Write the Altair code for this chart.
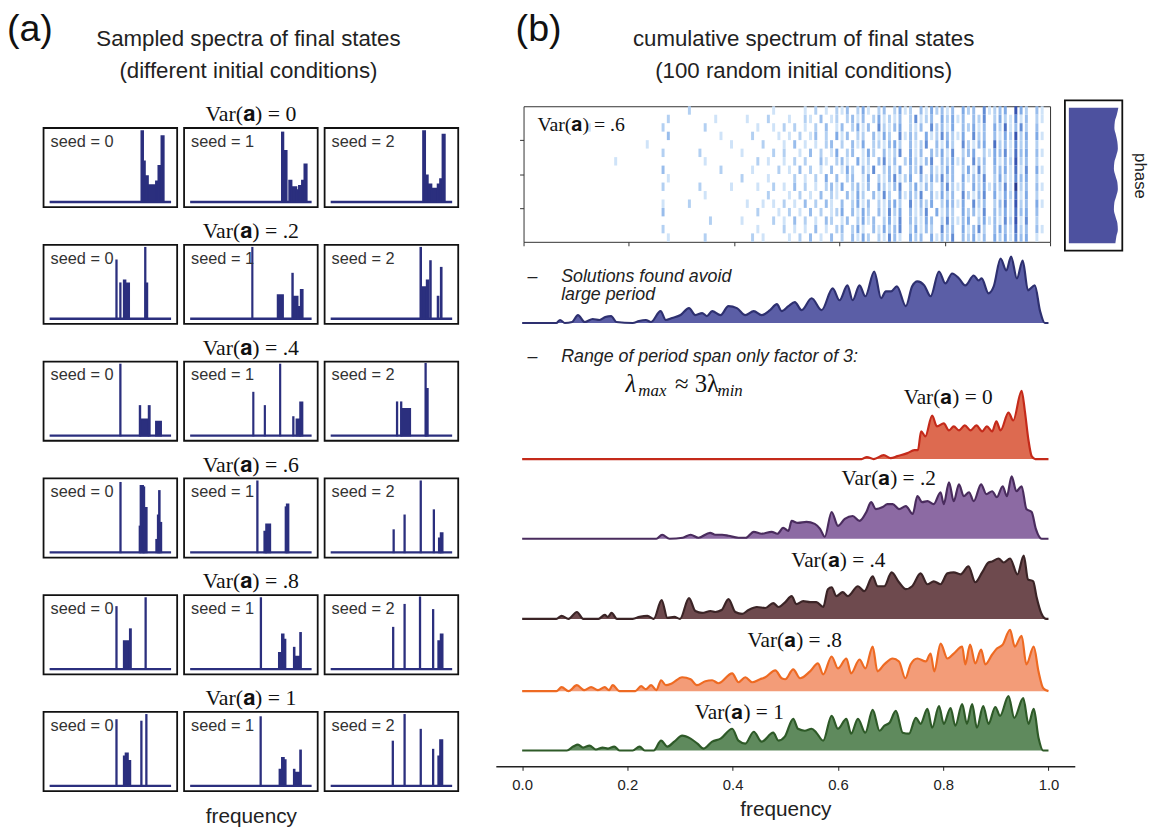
import altair as alt
import pandas as pd

SANS = "Liberation Sans"
SERIF = "Liberation Serif, DejaVu Serif, serif"
NAVY = "#2b2f7e"

# ---------------- panel (a) data: spectra segments (f_start, f_end, height) ----------------
VAR_LABELS = ["0", ".2", ".4", ".6", ".8", "1"]
SEEDS = [0, 1, 2]

SPEC_0 = [
    [(0.755, 0.77, 0.96), (0.77, 0.785, 0.55), (0.785, 0.81, 0.35), (0.81, 0.875, 0.23), (0.875, 0.895, 0.28), (0.895, 0.92, 0.49), (0.92, 0.94, 0.89)],
    [(0.755, 0.768, 0.94), (0.768, 0.795, 0.69), (0.815, 0.835, 0.29), (0.835, 0.875, 0.2), (0.875, 0.895, 0.16), (0.895, 0.92, 0.22), (0.92, 0.94, 0.29), (0.94, 0.96, 0.51)],
    [(0.76, 0.778, 0.96), (0.778, 0.8, 0.36), (0.8, 0.83, 0.24), (0.83, 0.88, 0.18), (0.88, 0.9, 0.24), (0.9, 0.92, 0.31), (0.92, 0.94, 0.91)],
]
SPEC_02 = [
    [(0.548, 0.553, 0.79), (0.58, 0.585, 0.48), (0.61, 0.625, 0.52), (0.625, 0.655, 0.48), (0.785, 0.79, 0.96), (0.79, 0.805, 0.48)],
    [(0.51, 0.514, 0.96), (0.72, 0.765, 0.32), (0.84, 0.846, 0.61), (0.846, 0.885, 0.3), (0.885, 0.91, 0.16), (0.91, 0.927, 0.39)],
    [(0.738, 0.745, 0.96), (0.745, 0.79, 0.43), (0.79, 0.806, 0.52), (0.818, 0.825, 0.78), (0.88, 0.888, 0.3), (0.906, 0.914, 0.69)],
]
SPEC_04 = [
    [(0.58, 0.585, 0.96), (0.741, 0.747, 0.4), (0.747, 0.815, 0.22), (0.815, 0.825, 0.4), (0.875, 0.918, 0.19)],
    [(0.518, 0.522, 0.58), (0.613, 0.617, 0.4), (0.739, 0.743, 0.96), (0.847, 0.852, 0.25), (0.875, 0.905, 0.22), (0.905, 0.925, 0.45)],
    [(0.544, 0.549, 0.45), (0.578, 0.583, 0.45), (0.583, 0.655, 0.36), (0.779, 0.784, 0.97), (0.784, 0.8, 0.63)],
]
SPEC_06 = [
    [(0.581, 0.586, 0.94), (0.74, 0.748, 0.35), (0.748, 0.77, 0.9), (0.77, 0.78, 0.88), (0.78, 0.8, 0.6), (0.877, 0.89, 0.17), (0.89, 0.9, 0.5), (0.9, 0.907, 0.83), (0.907, 0.92, 0.4)],
    [(0.551, 0.556, 0.96), (0.61, 0.625, 0.28), (0.625, 0.66, 0.38), (0.785, 0.795, 0.61), (0.795, 0.81, 0.65)],
    [(0.516, 0.521, 0.3), (0.606, 0.611, 0.5), (0.739, 0.744, 0.96), (0.847, 0.852, 0.57), (0.89, 0.905, 0.19), (0.905, 0.922, 0.26)],
]
SPEC_08 = [
    [(0.548, 0.553, 0.84), (0.61, 0.66, 0.38), (0.66, 0.67, 0.54), (0.788, 0.793, 0.96)],
    [(0.58, 0.585, 0.96), (0.73, 0.755, 0.22), (0.755, 0.77, 0.47), (0.77, 0.785, 0.4), (0.853, 0.86, 0.29), (0.86, 0.9, 0.17), (0.905, 0.913, 0.49)],
    [(0.512, 0.517, 0.56), (0.606, 0.611, 0.87), (0.733, 0.738, 0.97), (0.841, 0.846, 0.8), (0.885, 0.905, 0.38), (0.905, 0.922, 0.47)],
]
SPEC_1 = [
    [(0.548, 0.553, 0.89), (0.61, 0.625, 0.4), (0.625, 0.645, 0.44), (0.645, 0.665, 0.34), (0.753, 0.758, 0.87), (0.794, 0.799, 0.96)],
    [(0.578, 0.583, 0.93), (0.735, 0.755, 0.22), (0.755, 0.772, 0.38), (0.772, 0.787, 0.35), (0.853, 0.86, 0.22), (0.86, 0.9, 0.18), (0.905, 0.913, 0.48)],
    [(0.509, 0.514, 0.6), (0.606, 0.611, 0.96), (0.739, 0.744, 0.76), (0.841, 0.846, 0.49), (0.885, 0.9, 0.4), (0.9, 0.92, 0.62)],
]
SPECTRA = [SPEC_0, SPEC_02, SPEC_04, SPEC_06, SPEC_08, SPEC_1]

# ---------------- panel (b) data ----------------
# heatmap: 16 sampled rows x 100 frequency bins, intensity 0-9
HEAT_ROWS = [
    "0000000000 0000000000 0000000000 0200000000 0000000100 0001020102 1302410230 2412031423 1304230512 3407420310",
    "0000000000 0000000000 0000000200 0000001000 0010002000 1002103012 0231302412 1302512304 2413032502 4215130210",
    "0000000000 0010000000 0000002000 0000200000 0000100102 0201020301 3024130521 3402130523 1403241304 2613520300",
    "0000000000 0000000000 0000000300 0000000100 0002000010 1020130204 1302203142 0513204125 3214052303 1427240410",
    "0000000000 0000000000 0001000000 0000000001 0000020001 0301010230 2031402213 4203125031 4205213406 2315230200",
    "0000000000 0000000000 0000002000 0002000000 0100000202 0010302014 0230142031 2504130324 1502340214 3516340310",
    "0000000000 0000000100 0000000000 0000100000 0000201001 0202003102 3104120351 3024213503 2413052304 1327230200",
    "0000000000 0000000000 0000003000 0000000200 0001000020 1030201030 1420315023 1403250312 4302415203 3416150410",
    "0000000000 0000000000 0000000100 0000000000 0200001000 0201020403 0230140213 5124031425 2304132502 4215340200",
    "0000000000 0000000000 0000002000 0002000001 0000100201 0302010231 4023130421 3502413203 5213042413 2518230310",
    "0000000000 0000000000 0000000000 0000100000 0000002000 1020103021 0314203152 0413250314 2305213504 1426140200",
    "0000000000 0000000000 0000001000 0200000000 0010010102 0103020310 3024130213 4205132402 4314052302 3517230410",
    "0000000000 0000000000 0000003000 0000000000 0000200010 2010302012 4031420315 2403125041 3204231503 2416340300",
    "0000000000 0000000000 0000000000 0000020000 0100000201 0302010320 1302413024 1503214302 5213402413 1527150200",
    "0000000000 0000000000 0000002000 0000000000 0000100002 0101030102 3024103142 3502413205 2304135203 4316230310",
    "0000000000 0000000000 0000000100 0000200000 0002010000 1020301030 2031420215 3104230413 2503241304 2415340100",
]

PHASE_Y = [1.0, 0.95, 0.9, 0.85, 0.8, 0.75, 0.7, 0.65, 0.6, 0.55, 0.5, 0.45, 0.4, 0.35, 0.3, 0.25, 0.2, 0.15, 0.1, 0.05, 0.0]
PHASE_D = [1.0, 0.97, 0.93, 0.92, 0.95, 0.98, 0.99, 0.96, 0.92, 0.91, 0.94, 0.98, 0.99, 0.96, 0.92, 0.91, 0.94, 0.98, 0.99, 0.96, 0.94]

# cumulative spectra (frequency, height) per variance
BLUE_PTS = [(0, 0), (0.065, 0), (0.072, 3), (0.081, 0), (0.095, 1), (0.106, 8), (0.119, 1), (0.134, 4), (0.147, 3), (0.158, 6), (0.169, 7), (0.179, 1), (0.21, 0), (0.222, 2), (0.235, 3), (0.245, 1), (0.263, 12), (0.273, 3), (0.285, 5), (0.301, 8), (0.317, 15), (0.329, 8), (0.342, 10), (0.351, 7), (0.361, 12), (0.377, 8), (0.392, 17), (0.408, 15), (0.424, 8), (0.44, 12), (0.455, 8), (0.471, 13), (0.484, 19), (0.493, 12), (0.506, 17), (0.518, 21), (0.531, 13), (0.55, 25), (0.569, 13), (0.59, 35), (0.603, 23), (0.618, 38), (0.628, 23), (0.641, 38), (0.652, 27), (0.669, 52), (0.682, 25), (0.691, 32), (0.701, 32), (0.712, 37), (0.729, 17), (0.741, 37), (0.751, 42), (0.764, 38), (0.776, 27), (0.792, 52), (0.804, 40), (0.817, 50), (0.83, 45), (0.842, 38), (0.858, 48), (0.867, 43), (0.873, 45), (0.886, 30), (0.896, 37), (0.909, 65), (0.92, 53), (0.929, 67), (0.94, 45), (0.951, 63), (0.961, 33), (0.974, 38), (0.984, 12), (0.993, 0), (1.0, 0)]
RED_PTS = [(0, 0), (0.645, 0), (0.655, 2), (0.668, 0), (0.687, 4), (0.7, 1), (0.713, 3), (0.732, 6), (0.745, 9), (0.752, 9), (0.758, 28), (0.766, 23), (0.779, 44), (0.788, 33), (0.801, 36), (0.811, 29), (0.82, 33), (0.83, 29), (0.841, 34), (0.852, 29), (0.863, 34), (0.874, 28), (0.883, 33), (0.893, 28), (0.901, 38), (0.909, 29), (0.924, 47), (0.933, 39), (0.949, 69), (0.955, 49), (0.962, 19), (0.968, 3), (0.975, 0), (1.0, 0)]
PURPLE_PTS = [(0, 0), (0.255, 0), (0.266, 4), (0.28, 0), (0.305, 1), (0.32, 4), (0.335, 1), (0.357, 6), (0.367, 4), (0.38, 4), (0.392, 3), (0.411, 1), (0.425, 1), (0.44, 7), (0.455, 5), (0.474, 7), (0.485, 5), (0.496, 11), (0.506, 8), (0.512, 18), (0.524, 16), (0.54, 17), (0.556, 15), (0.566, 10), (0.575, 2), (0.588, 27), (0.6, 13), (0.613, 20), (0.628, 23), (0.641, 18), (0.654, 27), (0.663, 37), (0.672, 30), (0.685, 32), (0.694, 35), (0.704, 35), (0.716, 30), (0.729, 33), (0.742, 25), (0.751, 43), (0.76, 37), (0.77, 38), (0.782, 35), (0.795, 47), (0.801, 35), (0.811, 57), (0.82, 38), (0.83, 55), (0.839, 43), (0.849, 47), (0.858, 38), (0.872, 55), (0.882, 45), (0.893, 48), (0.902, 42), (0.913, 53), (0.921, 43), (0.93, 63), (0.939, 48), (0.949, 53), (0.958, 30), (0.968, 27), (0.976, 10), (0.987, 0), (1.0, 0)]
BROWN_PTS = [(0, 0), (0.065, 0), (0.075, 3), (0.088, 0), (0.104, 7), (0.116, 0), (0.145, 0), (0.157, 4), (0.163, 2), (0.17, 6), (0.18, 0), (0.21, 0), (0.223, 2), (0.238, 3), (0.25, 0), (0.265, 19), (0.276, 1), (0.289, 2), (0.3, 0), (0.317, 21), (0.329, 8), (0.342, 6), (0.358, 8), (0.367, 7), (0.379, 9), (0.392, 20), (0.405, 7), (0.418, 5), (0.43, 9), (0.446, 12), (0.462, 11), (0.477, 16), (0.487, 12), (0.5, 17), (0.512, 23), (0.521, 15), (0.534, 18), (0.547, 17), (0.559, 17), (0.572, 12), (0.581, 30), (0.588, 32), (0.597, 23), (0.609, 27), (0.619, 23), (0.638, 33), (0.65, 28), (0.666, 43), (0.675, 33), (0.688, 33), (0.702, 47), (0.716, 37), (0.729, 30), (0.741, 33), (0.757, 46), (0.77, 35), (0.782, 38), (0.795, 35), (0.808, 46), (0.82, 47), (0.833, 45), (0.848, 53), (0.861, 37), (0.874, 47), (0.886, 57), (0.893, 58), (0.905, 61), (0.915, 57), (0.927, 61), (0.941, 45), (0.953, 64), (0.961, 40), (0.971, 38), (0.977, 23), (0.987, 5), (0.996, 0), (1.0, 0)]
ORANGE_PTS = [(0, 0), (0.065, 0), (0.075, 4), (0.088, 0), (0.104, 6), (0.118, 1), (0.131, 4), (0.144, 1), (0.157, 4), (0.165, 1), (0.172, 6), (0.185, 0), (0.215, 0), (0.226, 5), (0.235, 2), (0.245, 6), (0.255, 1), (0.264, 11), (0.273, 6), (0.285, 8), (0.304, 14), (0.32, 12), (0.332, 6), (0.348, 10), (0.361, 11), (0.373, 8), (0.399, 18), (0.411, 9), (0.424, 14), (0.437, 9), (0.452, 12), (0.462, 14), (0.481, 21), (0.493, 13), (0.5, 12), (0.515, 22), (0.528, 13), (0.547, 20), (0.562, 28), (0.572, 17), (0.588, 35), (0.6, 23), (0.616, 33), (0.625, 18), (0.641, 32), (0.652, 23), (0.666, 45), (0.675, 20), (0.688, 27), (0.704, 33), (0.716, 30), (0.728, 13), (0.738, 27), (0.751, 33), (0.767, 30), (0.776, 38), (0.783, 20), (0.795, 48), (0.808, 33), (0.82, 38), (0.836, 45), (0.842, 27), (0.851, 47), (0.861, 28), (0.872, 42), (0.88, 27), (0.893, 37), (0.902, 43), (0.913, 47), (0.927, 62), (0.936, 45), (0.949, 56), (0.958, 27), (0.972, 45), (0.981, 20), (0.99, 3), (1.0, 0)]
GREEN_PTS = [(0, 0), (0.085, 0), (0.097, 4), (0.106, 6), (0.116, 3), (0.128, 5), (0.14, 1), (0.153, 3), (0.163, 2), (0.175, 4), (0.185, 0), (0.21, 0), (0.223, 4), (0.233, 0), (0.25, 0), (0.264, 10), (0.276, 4), (0.289, 9), (0.304, 15), (0.32, 12), (0.333, 7), (0.345, 2), (0.361, 9), (0.377, 12), (0.399, 22), (0.411, 10), (0.424, 7), (0.44, 19), (0.455, 9), (0.477, 18), (0.487, 10), (0.499, 14), (0.515, 32), (0.524, 22), (0.537, 20), (0.55, 22), (0.559, 18), (0.572, 10), (0.588, 35), (0.6, 22), (0.616, 32), (0.625, 17), (0.638, 32), (0.652, 18), (0.666, 41), (0.679, 20), (0.688, 25), (0.698, 28), (0.71, 40), (0.723, 18), (0.735, 17), (0.748, 33), (0.757, 27), (0.77, 42), (0.779, 23), (0.792, 45), (0.801, 27), (0.814, 43), (0.823, 25), (0.836, 47), (0.845, 27), (0.855, 47), (0.864, 23), (0.876, 45), (0.886, 27), (0.899, 44), (0.908, 35), (0.924, 55), (0.935, 33), (0.952, 53), (0.962, 27), (0.972, 42), (0.981, 13), (0.99, 0), (1.0, 0)]

RIDGE_SERIES = [BLUE_PTS, RED_PTS, PURPLE_PTS, BROWN_PTS, ORANGE_PTS, GREEN_PTS]
RIDGE_FILLS = ["#5b5ea6", "#dd6a50", "#8c6aa3", "#6e4a4e", "#f39c78", "#5f8a5d"]
RIDGE_LINES = ["#2e3070", "#c42a1a", "#4a2c5e", "#3b2426", "#ee6a22", "#2e5a28"]
RIDGE_HEIGHT = 504
RIDGE_BASE = [434, 296.5, 216, 135, 62, 2]   # vertical offset of each ridge (px above chart bottom)

TICK_VALUES = [0.0, 0.2, 0.4, 0.6, 0.8, 1.0]


def var_text(v):
    return f"Var(\U0001D41A) = {v}"


def one():
    return pd.DataFrame({"t": [0]})


def txt(text, x, y, size, font=SANS, align="left", style="normal", color="#222", baseline="middle"):
    return alt.Chart(one()).mark_text(text=text, align=align, baseline=baseline, font=font,
                                      fontSize=size, fontStyle=style, color=color).encode(
        x=alt.value(x), y=alt.value(y))


# ---------------- panel (a) ----------------
def spectrum_box(segs, seed, xtitle=None):
    df = pd.DataFrame(segs, columns=["f0", "f1", "h"])
    df["z"] = 0.0
    xs = alt.Scale(domain=[-0.05, 1.05], nice=False, zero=False)
    ys = alt.Scale(domain=[-0.07, 1.0], nice=False, zero=False)
    if xtitle:
        xax = alt.Axis(title=xtitle, labels=False, ticks=False, domain=False, grid=False, titleFont=SANS,
                       titleFontSize=21, titleFontWeight="normal", titlePadding=15, titleColor="#222")
    else:
        xax = None
    base = alt.Chart(pd.DataFrame({"f0": [0.0], "f1": [1.0], "h": [0.0]})).mark_rule(
        color=NAVY, strokeWidth=2.4).encode(
        x=alt.X("f0:Q", scale=xs, axis=xax), x2="f1", y=alt.Y("h:Q", scale=ys, axis=None))
    bars = alt.Chart(df).mark_rect(color=NAVY, stroke=NAVY, strokeWidth=1.7).encode(
        x=alt.X("f0:Q", scale=xs, axis=xax), x2="f1", y=alt.Y("z:Q", scale=ys, axis=None), y2="h")
    label = txt(f"seed = {seed}", 7, 6, 16.5, color="#333", baseline="top")
    return alt.layer(base, bars, label).properties(
        width=135, height=80, view=alt.ViewBackground(stroke="#111", strokeWidth=1.8))


rows = []
for i, (lab, spec) in enumerate(zip(VAR_LABELS, SPECTRA)):
    boxes = [spectrum_box(spec[s], s, xtitle=("frequency" if (i == 5 and s == 1) else None)) for s in SEEDS]
    rows.append(alt.hconcat(*boxes, spacing=5).properties(
        title=alt.TitleParams(text=var_text(lab), font=SERIF, fontSize=22, fontWeight="normal",
                              anchor="middle", offset=1, color="#111")))

header_a = alt.layer(
    txt("(a)", -37, 26, 38, color="#111"),
    txt("Sampled spectra of final states", 207, 35, 22.5, align="center"),
    txt("(different initial conditions)", 207, 67, 22.5, align="center"),
).properties(width=415, height=88)

panel_a = alt.vconcat(header_a, *rows, spacing=12)


# ---------------- panel (b) ----------------
def spacer(w, h):
    return alt.Chart(one()).mark_point(opacity=0, size=1).encode(
        x=alt.X("t:Q", axis=None), y=alt.Y("t:Q", axis=None)).properties(width=w, height=h)


heat_records = []
for r, row in enumerate(HEAT_ROWS):
    cells = row.replace(" ", "")
    for i, c in enumerate(cells):
        if c != "0":
            heat_records.append({"f": (i + 0.5) / len(cells), "r": r + 0.5, "v": int(c)})
heat_df = pd.DataFrame(heat_records)

heat = alt.Chart(heat_df).mark_tick(orient="vertical", thickness=3, size=8.5, opacity=1).encode(
    x=alt.X("f:Q", scale=alt.Scale(domain=[0, 1], nice=False, zero=False),
            axis=alt.Axis(values=TICK_VALUES, labels=False, tickSize=4, domain=False, grid=False,
                          title=None, tickColor="#333")),
    y=alt.Y("r:Q", scale=alt.Scale(domain=[0, len(HEAT_ROWS)], nice=False, zero=False, reverse=True),
            axis=alt.Axis(values=[4, 8, 12], labels=False, tickSize=4, domain=False, grid=False,
                          title=None, tickColor="#333")),
    color=alt.Color("v:Q", scale=alt.Scale(domain=[1, 4, 7, 9],
                                           range=["#cfe3f8", "#7faae6", "#3653b0", "#1a2370"]), legend=None),
)
heat_chart = alt.layer(heat, txt(var_text(".6"), 14, 19, 20, font=SERIF, color="#111")).properties(
    width=532, height=137, view=alt.ViewBackground(stroke="#333", strokeWidth=1))

phase_df = pd.DataFrame({"p": PHASE_Y, "d": PHASE_D})
phase_df["z"] = 0.0
phase_chart = alt.Chart(phase_df).mark_area(orient="horizontal", color="#4d519f", interpolate="monotone").encode(
    x=alt.X("d:Q", scale=alt.Scale(domain=[-0.08, 1.08], nice=False, zero=False), axis=None),
    x2="z",
    y=alt.Y("p:Q", scale=alt.Scale(domain=[-0.055, 1.055], nice=False, zero=False),
            axis=alt.Axis(orient="right", title="phase", labels=False, ticks=False, domain=False, grid=False,
                          titleAngle=90, titleFont=SANS, titleFontSize=17, titleFontWeight="normal",
                          titlePadding=8, titleColor="#222")),
).properties(width=58, height=152, view=alt.ViewBackground(stroke="#111", strokeWidth=1.8))

heat_row = alt.hconcat(
    spacer(18, 1),
    alt.hconcat(alt.vconcat(spacer(1, 1), heat_chart, spacing=4), phase_chart, spacing=13),
    spacing=5,
)

# ridgeline chart
xs_r = alt.Scale(domain=[-0.05, 1.05], nice=False, zero=False)
ys_r = alt.Scale(domain=[0, RIDGE_HEIGHT], nice=False, zero=False)
xax_r = alt.Axis(values=TICK_VALUES, format=".1f", offset=14, tickSize=4, labelFont=SANS,
                 labelFontSize=15, labelPadding=7, labelColor="#222", domainColor="#222",
                 domainWidth=1.5, tickColor="#222", grid=False, title="frequency", titleFont=SANS,
                 titleFontSize=21, titleFontWeight="normal", titlePadding=7, titleColor="#222")
ridge_layers = []
for pts, fill, stroke, base in zip(RIDGE_SERIES, RIDGE_FILLS, RIDGE_LINES, RIDGE_BASE):
    df = pd.DataFrame(pts, columns=["f", "h"])
    df["y"] = df["h"] + base
    df["y0"] = float(base)
    ridge_layers.append(alt.Chart(df).mark_area(color=fill, interpolate="monotone").encode(
        x=alt.X("f:Q", scale=xs_r, axis=xax_r), y=alt.Y("y:Q", scale=ys_r, axis=None), y2="y0"))
    ridge_layers.append(alt.Chart(df).mark_line(color=stroke, strokeWidth=2.2, interpolate="monotone").encode(
        x=alt.X("f:Q", scale=xs_r, axis=xax_r), y=alt.Y("y:Q", scale=ys_r, axis=None)))

MATH = "Liberation Serif, DejaVu Serif, serif"
ridge_texts = [
    txt("\u2013", 32, 24, 18, style="italic"),
    txt("Solutions found avoid", 66, 24, 18, style="italic"),
    txt("large period", 66, 42, 18, style="italic"),
    txt("\u2013", 32, 104, 18, style="italic"),
    txt("Range of period span only factor of 3:", 66, 104, 18, style="italic"),
    txt("\u03bb", 131, 132, 25, font=MATH, style="italic", color="#111"),
    txt("max", 144, 139, 17, font=MATH, style="italic", color="#111"),
    txt("\u2248 3\u03bb", 181, 132, 25, font=MATH, color="#111"),
    txt("min", 224, 139, 17, font=MATH, style="italic", color="#111"),
    txt(var_text("0"), 457, 146, 21.5, font=SERIF, align="center", color="#111"),
    txt(var_text(".2"), 397, 228, 21.5, font=SERIF, align="center", color="#111"),
    txt(var_text(".4"), 346, 311, 21.5, font=SERIF, align="center", color="#111"),
    txt(var_text(".8"), 302, 391, 21.5, font=SERIF, align="center", color="#111"),
    txt(var_text("1"), 246, 464, 21.5, font=SERIF, align="center", color="#111"),
]
ridges = alt.layer(*ridge_layers, *ridge_texts).properties(width=585, height=RIDGE_HEIGHT)

header_b = alt.layer(
    txt("(b)", 20, 26, 38, color="#111"),
    txt("cumulative spectrum of final states", 311, 35, 22.5, align="center"),
    txt("(100 random initial conditions)", 311, 67, 22.5, align="center"),
).properties(width=585, height=96)

panel_b = alt.vconcat(header_b, heat_row, ridges, spacing=0)

chart = alt.hconcat(panel_a, panel_b, spacing=37).properties(
    padding={"left": 7, "top": 0, "right": 2, "bottom": 2}, background="white"
).configure(font=SANS).configure_view(stroke="transparent", strokeWidth=0)

chart.save("out.html", embed_options={"renderer": "svg", "actions": False})
